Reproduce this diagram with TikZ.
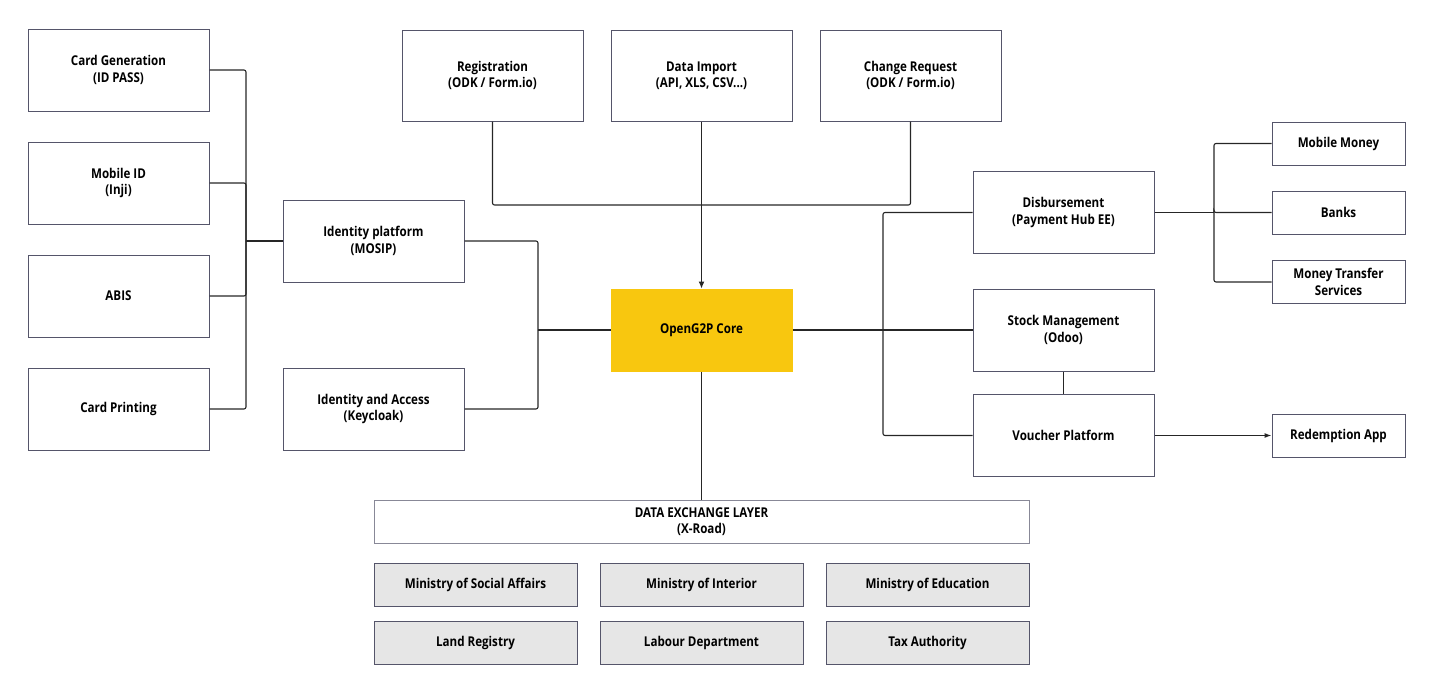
\documentclass[tikz,border=0pt]{standalone}
\usepackage{fontspec}
\setmainfont{Open Sans}[FakeStretch=0.86]
\usetikzlibrary{arrows.meta}
\definecolor{coreyellow}{HTML}{F8C70F}
\definecolor{boxline}{HTML}{55556A}
\definecolor{agency}{HTML}{E6E6E6}
\begin{document}
\begin{tikzpicture}[x=1pt,y=-1pt,
  box/.style={draw=boxline,line width=1pt,fill=white,minimum width=181pt,minimum height=82pt,
    inner sep=0pt,align=center,font=\fontsize{13.5}{16.5}\selectfont\bfseries},
  small/.style={box,minimum width=133pt,minimum height=43pt},
  agencybox/.style={box,fill=agency,minimum width=203pt,minimum height=43pt},
  link/.style={draw=black!85,line width=1.1pt,rounded corners=2pt}]
  \useasboundingbox (0,0) rectangle (1435,696);
  % identity side
  \foreach \n/\y/\t in {cardgen/70/{Card Generation\\(ID PASS)}, mobid/183/{Mobile ID\\(Inji)},
    abis/296/ABIS, cardprint/409/Card Printing}
    \node[box] (\n) at (118.5,\y) {\t};
  \node[box] (idp) at (373.5,241) {Identity platform\\(MOSIP)};
  \node[box] (iam) at (373.5,409) {Identity and Access\\(Keycloak)};
  % core and inputs
  \node[box,fill=coreyellow,draw=coreyellow] (core) at (701.5,330) {OpenG2P Core};
  \node[box,minimum height=91pt] (reg) at (492.5,75.5) {Registration\\(ODK / Form.io)};
  \node[box,minimum height=91pt] (imp) at (701.5,75.5) {Data Import\\(API, XLS, CSV...)};
  \node[box,minimum height=91pt] (chg) at (910.5,75.5) {Change Request\\(ODK / Form.io)};
  % payments side
  \node[box] (disb) at (1063.5,212.5) {Disbursement\\(Payment Hub EE)};
  \node[box] (stock) at (1063.5,330) {Stock Management\\(Odoo)};
  \node[box] (vouch) at (1063.5,435.5) {Voucher Platform};
  \node[small] (mm) at (1338.5,143.5) {Mobile Money};
  \node[small] (banks) at (1338.5,212.5) {Banks};
  \node[small] (mts) at (1338.5,282) {Money Transfer\\Services};
  \node[small] (redeem) at (1338.5,435.5) {Redemption App};
  % data exchange
  \node[box,draw=boxline!70,minimum width=655pt,minimum height=43pt] (dx) at (701.5,521.5)
    {DATA EXCHANGE LAYER\\(X-Road)};
  \foreach \n/\x/\y/\t in {msa/475.5/584.5/Ministry of Social Affairs, mint/701.5/584.5/Ministry of Interior,
    medu/927.5/584.5/Ministry of Education, land/475.5/642.5/Land Registry,
    labour/701.5/642.5/Labour Department, tax/927.5/642.5/Tax Authority}
    \node[agencybox] (\n) at (\x,\y) {\t};
  % junctions
  \coordinate (lj) at (246,241);
  \coordinate (mj) at (538,330);
  \coordinate (tj) at (701.5,205);
  \coordinate (rj) at (883,330);
  \coordinate (dj) at (1214,212.5);
  \foreach \n in {cardgen,mobid,abis,cardprint}
    \draw[link] (\n.east) -| (lj);
  \draw[link] (lj) -- (idp.west);
  \draw[link] (idp.east) -| (mj);
  \draw[link] (iam.east) -| (mj);
  \draw[link] (mj) -- (core.west);
  \draw[link] (reg.south) |- (tj);
  \draw[link] (chg.south) |- (tj);
  \draw[link,-{Latex[length=7pt,width=6pt]}] (imp.south) -- (core.north);
  \draw[link] (core.east) -- (rj);
  \draw[link] (rj) |- (disb.west);
  \draw[link] (rj) -- (stock.west);
  \draw[link] (rj) |- (vouch.west);
  \draw[link] (stock.south) -- (vouch.north);
  \draw[link] (disb.east) -- (dj);
  \foreach \n in {mm,banks,mts}
    \draw[link] (dj) |- (\n.west);
  \draw[link,-{Latex[length=7pt,width=5pt]}] (vouch.east) -- (redeem.west);
  \draw[link] (core.south) -- (dx.north);
\end{tikzpicture}
\end{document}
